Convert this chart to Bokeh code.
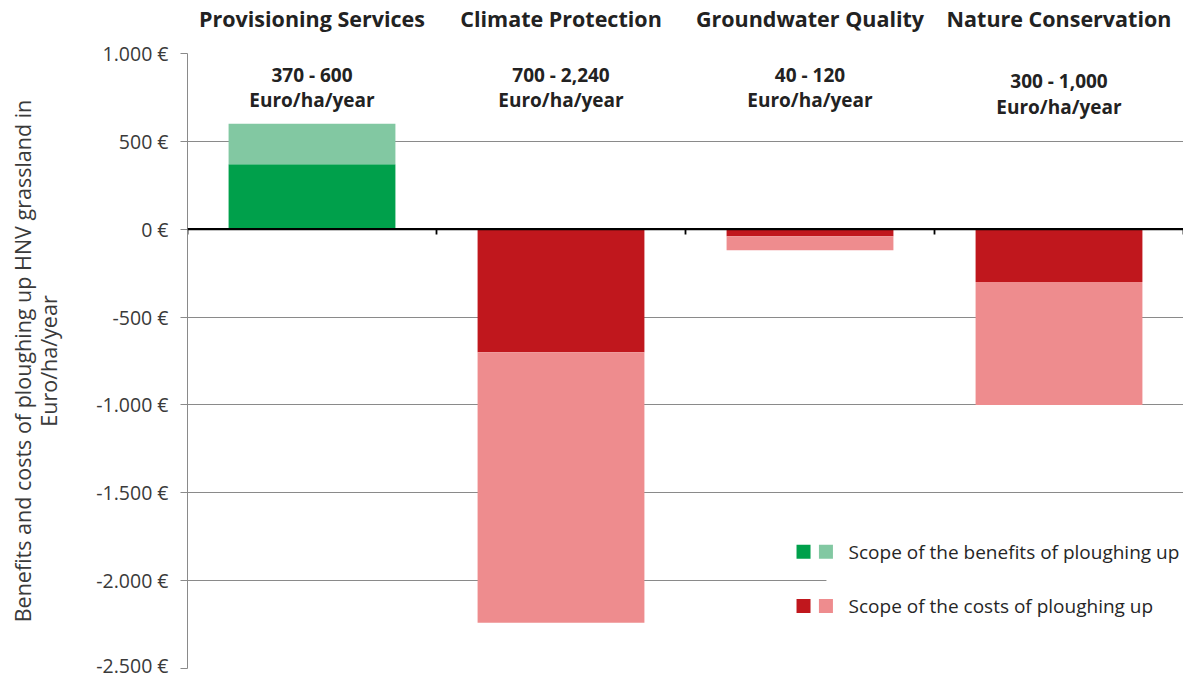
from bokeh.plotting import figure
from bokeh.models import Range1d, FactorRange, FixedTicker, Span, ColumnDataSource
from bokeh.embed import file_html
from bokeh.resources import INLINE
from bokeh.core.properties import value

# ---------------- data ----------------
categories = ["Provisioning Services", "Climate Protection", "Groundwater Quality", "Nature Conservation"]
lower = [370, 700, 40, 300]        # lower end of scope (Euro/ha/year)
upper = [600, 2240, 120, 1000]     # upper end of scope (Euro/ha/year)
kind = ["benefit", "cost", "cost", "cost"]
y_ticks = [1000, 500, 0, -500, -1000, -1500, -2000, -2500]
y_tick_labels = ["1.000 €", "500 €", "0 €", "-500 €", "-1.000 €", "-1.500 €", "-2.000 €", "-2.500 €"]
legend_labels = ["Scope of the benefits of ploughing up", "Scope of the costs of ploughing up"]
unit_label = "Euro/ha/year"

# ---------------- styling ----------------
FONT = "Open Sans"
DARK = {"benefit": "#00a04b", "cost": "#c0171d"}
LIGHT = {"benefit": "#82c8a2", "cost": "#ee8c8e"}
GRID = "#8a8a8a"
TXT = "#3a3a3a"

sign = [1 if k == "benefit" else -1 for k in kind]
src = ColumnDataSource(dict(
    cat=categories,
    inner=[s * lo for s, lo in zip(sign, lower)],
    outer=[s * hi for s, hi in zip(sign, upper)],
    zero=[0] * len(categories),
    dark=[DARK[k] for k in kind],
    light=[LIGHT[k] for k in kind],
    rng=[f"{lo:,} - {hi:,}" for lo, hi in zip(lower, upper)],
    unit=[unit_label] * len(categories),
    ly1=[875, 875, 875, 846],
    ly2=[733, 733, 733, 698],
))

p = figure(
    x_range=FactorRange(*categories),
    y_range=Range1d(y_ticks[-1], y_ticks[0]),
    width=1183, height=678,
    x_axis_location="above",
    output_backend="svg", toolbar_location=None,
    min_border_left=187, min_border_right=0, min_border_top=53, min_border_bottom=10,
)
p.outline_line_color = None
p.background_fill_color = "white"

# axes
p.xaxis.axis_line_color = None
p.xaxis.major_tick_line_color = None
p.xaxis.minor_tick_line_color = None
p.xaxis.major_label_text_font = FONT
p.xaxis.major_label_text_font_size = "21.5px"
p.xaxis.major_label_text_font_style = "bold"
p.xaxis.major_label_text_color = "#222222"
p.xaxis.major_label_standoff = 15
p.xgrid.grid_line_color = None

p.yaxis.ticker = FixedTicker(ticks=y_ticks)
p.yaxis.major_label_overrides = {t: l for t, l in zip(y_ticks, y_tick_labels)}
p.yaxis.axis_line_color = GRID
p.yaxis.major_tick_line_color = GRID
p.yaxis.major_tick_out = 7
p.yaxis.major_tick_in = 0
p.yaxis.minor_tick_line_color = None
p.yaxis.major_label_standoff = 12
p.yaxis.major_label_text_font = FONT
p.yaxis.major_label_text_font_size = "19.5px"
p.yaxis.major_label_text_color = TXT
p.yaxis.axis_label = "Benefits and costs of ploughing up HNV grassland in\nEuro/ha/year"
p.yaxis.axis_label_text_font = FONT
p.yaxis.axis_label_text_font_size = "21.5px"
p.yaxis.axis_label_text_font_style = "normal"
p.yaxis.axis_label_text_color = TXT
p.yaxis.axis_label_text_line_height = 0.9
p.yaxis.axis_label_standoff = 30
p.ygrid.grid_line_color = GRID
p.ygrid.grid_line_width = 1.2

# bars
W = 0.67
p.vbar(x="cat", bottom="zero", top="inner", width=W, source=src, fill_color="dark", line_color=None)
p.vbar(x="cat", bottom="inner", top="outer", width=W, source=src, fill_color="light", line_color=None)

# range annotations
p.text(x="cat", y="ly1", text="rng", source=src, text_align="center", text_baseline="middle",
       text_font=value(FONT), text_font_size="19px", text_font_style="bold", text_color="#222222")
p.text(x="cat", y="ly2", text="unit", source=src, text_align="center", text_baseline="middle",
       text_font=value(FONT), text_font_size="19px", text_font_style="bold", text_color="#222222")

# zero line with category boundary ticks
p.add_layout(Span(location=0, dimension="width", line_color="black", line_width=2.2))
bounds = list(range(len(categories) + 1))
p.segment(x0=bounds, x1=bounds, y0=[0] * len(bounds), y1=[-30] * len(bounds),
          line_color="black", line_width=1.8)

# custom legend
p.quad(left=[2.566], right=[4.05], top=[-1650], bottom=[-2350], fill_color="white", line_color=None)
row_y = [-1835, -2145]
legend_kinds = ["benefit", "cost"]
p.scatter(x=[2.474] * 2, y=row_y, marker="square", size=14, line_color=None,
          fill_color=[DARK[k] for k in legend_kinds])
p.scatter(x=[2.564] * 2, y=row_y, marker="square", size=14, line_color=None,
          fill_color=[LIGHT[k] for k in legend_kinds])
p.text(x=[2.655] * 2, y=row_y, text=legend_labels, text_align="left", text_baseline="middle",
       text_font=value(FONT), text_font_size="19px", text_color="#262626")

open("out.html", "w").write(file_html(p, INLINE))
